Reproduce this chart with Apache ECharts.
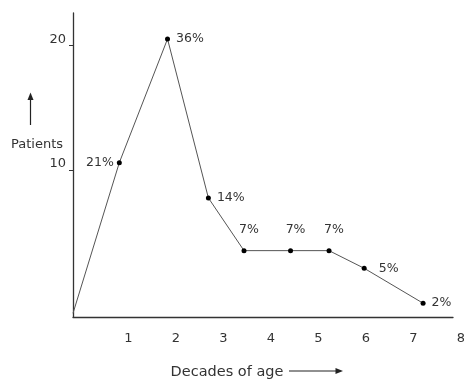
<!DOCTYPE html>
<html>
<head>
<meta charset="utf-8">
<script src="https://cdn.jsdelivr.net/npm/echarts@6/dist/echarts.min.js"></script>
<style>
html,body{margin:0;padding:0;background:#fff;}
#chart{width:464px;height:380px;}
</style>
</head>
<body>
<div id="chart"></div>
<script>
// Data
var decades = [0, 0.975, 1.99, 2.85, 3.6, 4.58, 5.39, 6.13, 7.37];
var patients = [-1.53, 10.59, 20.54, 7.75, 3.51, 3.51, 3.51, 2.09, -0.72];
var pctLabels = ['', '21%', '36%', '14%', '7%', '7%', '7%', '5%', '2%'];
var xTickLabels = [1, 2, 3, 4, 5, 6, 7, 8];
var yTickLabels = [10, 20];

var FONT = 'DejaVu Sans';
var TXT = '#333';

function labelStyle(i) {
  var t = pctLabels[i];
  if (!t) return { show: false };
  var base = { show: true, formatter: t, color: TXT, fontFamily: FONT, fontSize: 12.5 };
  if (t === '21%') { base.position = 'left'; base.distance = 3; }
  else if (t === '7%') { base.position = 'top'; base.distance = 12; base.offset = [5, 0]; }
  else if (t === '5%') { base.position = 'right'; base.distance = 12; }
  else { base.position = 'right'; base.distance = 6; }
  return base;
}

var seriesData = decades.map(function (x, i) {
  return {
    value: [x, patients[i]],
    symbolSize: i === 0 ? 0 : 5,
    label: labelStyle(i)
  };
});

var chart = echarts.init(document.getElementById('chart'), null, { renderer: 'canvas' });
chart.setOption({
  animation: false,
  backgroundColor: '#fff',
  grid: { left: 73, right: 11, top: 13, bottom: 63, containLabel: false, outerBoundsMode: 'none' },
  xAxis: {
    type: 'value',
    min: 0,
    max: 8,
    axisLine: { show: true, onZero: false, lineStyle: { color: '#333', width: 1.3 } },
    axisTick: { show: false },
    splitLine: { show: false },
    axisLabel: {
      customValues: xTickLabels,
      color: TXT, fontFamily: FONT, fontSize: 13,
      margin: 15,
      padding: [0, 0, 0, 16],
      showMaxLabel: true
    },
    name: 'Decades of age',
    nameLocation: 'middle',
    nameGap: 48,
    nameMoveOverlap: false,
    nameTextStyle: { color: TXT, fontFamily: FONT, fontSize: 14.5, padding: [0, 72, 0, 0] }
  },
  yAxis: {
    type: 'value',
    min: -1.83,
    max: 22.63,
    axisLine: { show: true, onZero: false, lineStyle: { color: '#333', width: 1.3 } },
    axisTick: { show: true, customValues: yTickLabels, length: 4, lineStyle: { color: '#333' } },
    splitLine: { show: false },
    axisLabel: {
      customValues: yTickLabels,
      color: TXT, fontFamily: FONT, fontSize: 13,
      margin: 7,
      verticalAlign: 'bottom'
    },
    name: 'Patients',
    nameLocation: 'middle',
    nameRotate: 0,
    nameGap: 10,
    nameMoveOverlap: false,
    nameTextStyle: { color: TXT, fontFamily: FONT, fontSize: 13, align: 'right', verticalAlign: 'bottom', padding: [0, 0, 14, 0] }
  },
  series: [{
    type: 'line',
    data: seriesData,
    symbol: 'circle',
    showSymbol: true,
    itemStyle: { color: '#000' },
    lineStyle: { color: '#555', width: 1 },
    z: 3
  }],
  graphic: [
    { type: 'line', shape: { x1: 30.5, y1: 125, x2: 30.5, y2: 98 }, style: { stroke: '#222', lineWidth: 1.2 } },
    { type: 'polygon', shape: { points: [[30.5, 92.5], [27.5, 100], [33.5, 100]] }, style: { fill: '#222' } },
    { type: 'line', shape: { x1: 289, y1: 371, x2: 337, y2: 371 }, style: { stroke: '#222', lineWidth: 1.2 } },
    { type: 'polygon', shape: { points: [[343, 371], [335.5, 368], [335.5, 374]] }, style: { fill: '#222' } }
  ]
});
</script>
</body>
</html>
